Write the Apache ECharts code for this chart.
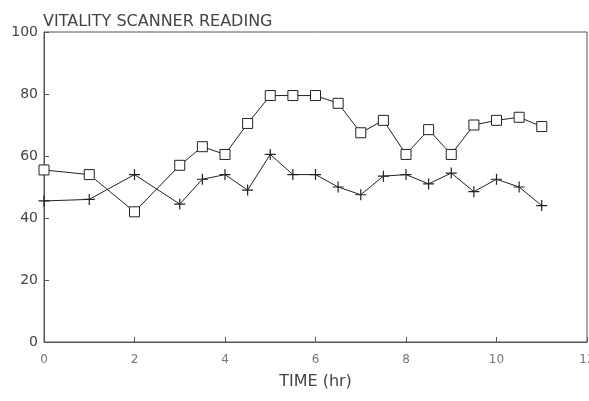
<!DOCTYPE html>
<html>
<head>
<meta charset="utf-8">
<script src="https://cdn.jsdelivr.net/npm/echarts@6/dist/echarts.min.js"></script>
<style>
  html, body { margin: 0; padding: 0; background: #fff; }
  #chart { width: 589px; height: 401px; }
</style>
</head>
<body>
<div id="chart"></div>
<script>
// time in hours, shared by both traces
var times = [0, 1, 2, 3, 3.5, 4, 4.5, 5, 5.5, 6, 6.5, 7, 7.5, 8, 8.5, 9, 9.5, 10, 10.5, 11];
var squareVals = [55.5, 54, 42, 57, 63, 60.5, 70.5, 79.5, 79.5, 79.5, 77, 67.5, 71.5, 60.5, 68.5, 60.5, 70, 71.5, 72.5, 69.5];
var plusVals = [45.5, 46, 54, 44.5, 52.5, 54, 49, 60.5, 54, 54, 50, 47.5, 53.5, 54, 51, 54.5, 48.5, 52.5, 50, 44];
var xTicks = [0, 2, 4, 6, 8, 10, 12];
var yTicks = [0, 20, 40, 60, 80, 100];

var ink = '#222';
var textCol = '#444';

function pairs(vals) {
  return times.map(function(t, i) { return [t, vals[i]]; });
}

var chart = echarts.init(document.getElementById('chart'), null, { renderer: 'canvas' });
chart.setOption({
  animation: false,
  backgroundColor: '#fff',
  title: {
    text: 'VITALITY SCANNER READING',
    left: 38,
    top: 9,
    textStyle: { fontFamily: 'DejaVu Sans', fontSize: 16, fontWeight: 'normal', color: textCol }
  },
  grid: {
    left: 44, right: 2, top: 32, bottom: 59,
    outerBoundsMode: 'none',
    containLabel: false,
    show: true, borderColor: '#555', borderWidth: 1, backgroundColor: 'transparent'
  },
  xAxis: {
    type: 'value',
    min: xTicks[0], max: xTicks[xTicks.length - 1], interval: 2,
    name: 'TIME (hr)',
    nameLocation: 'middle',
    nameGap: 32,
    nameTextStyle: { fontFamily: 'DejaVu Sans', fontSize: 16, color: textCol },
    axisLine: { show: true, lineStyle: { color: '#555', width: 1 } },
    axisTick: { show: true, inside: true, length: 5, lineStyle: { color: '#555' } },
    axisLabel: { fontFamily: 'DejaVu Sans', fontSize: 12, color: '#777', margin: 12 },
    splitLine: { show: false }
  },
  yAxis: {
    type: 'value',
    min: yTicks[0], max: yTicks[yTicks.length - 1], interval: 20,
    axisLine: { show: true, lineStyle: { color: '#555', width: 1 } },
    axisTick: { show: true, inside: true, length: 5, lineStyle: { color: '#555' } },
    axisLabel: { fontFamily: 'DejaVu Sans', fontSize: 14, color: textCol, margin: 6 },
    splitLine: { show: false }
  },
  series: [
    {
      type: 'line',
      data: pairs(squareVals),
      symbol: 'rect',
      symbolSize: 10,
      showAllSymbol: true,
      lineStyle: { color: ink, width: 1 },
      itemStyle: { color: '#fff', borderColor: ink, borderWidth: 1 },
      z: 3
    },
    {
      type: 'line',
      data: pairs(plusVals),
      symbol: 'path://M5,0 L5,10 M0,5 L10,5',
      symbolSize: 11,
      showAllSymbol: true,
      lineStyle: { color: ink, width: 1 },
      itemStyle: { color: 'none', borderColor: ink, borderWidth: 1.2 },
      z: 2
    }
  ]
});
window.addEventListener('resize', function() { chart.resize(); });
</script>
</body>
</html>
